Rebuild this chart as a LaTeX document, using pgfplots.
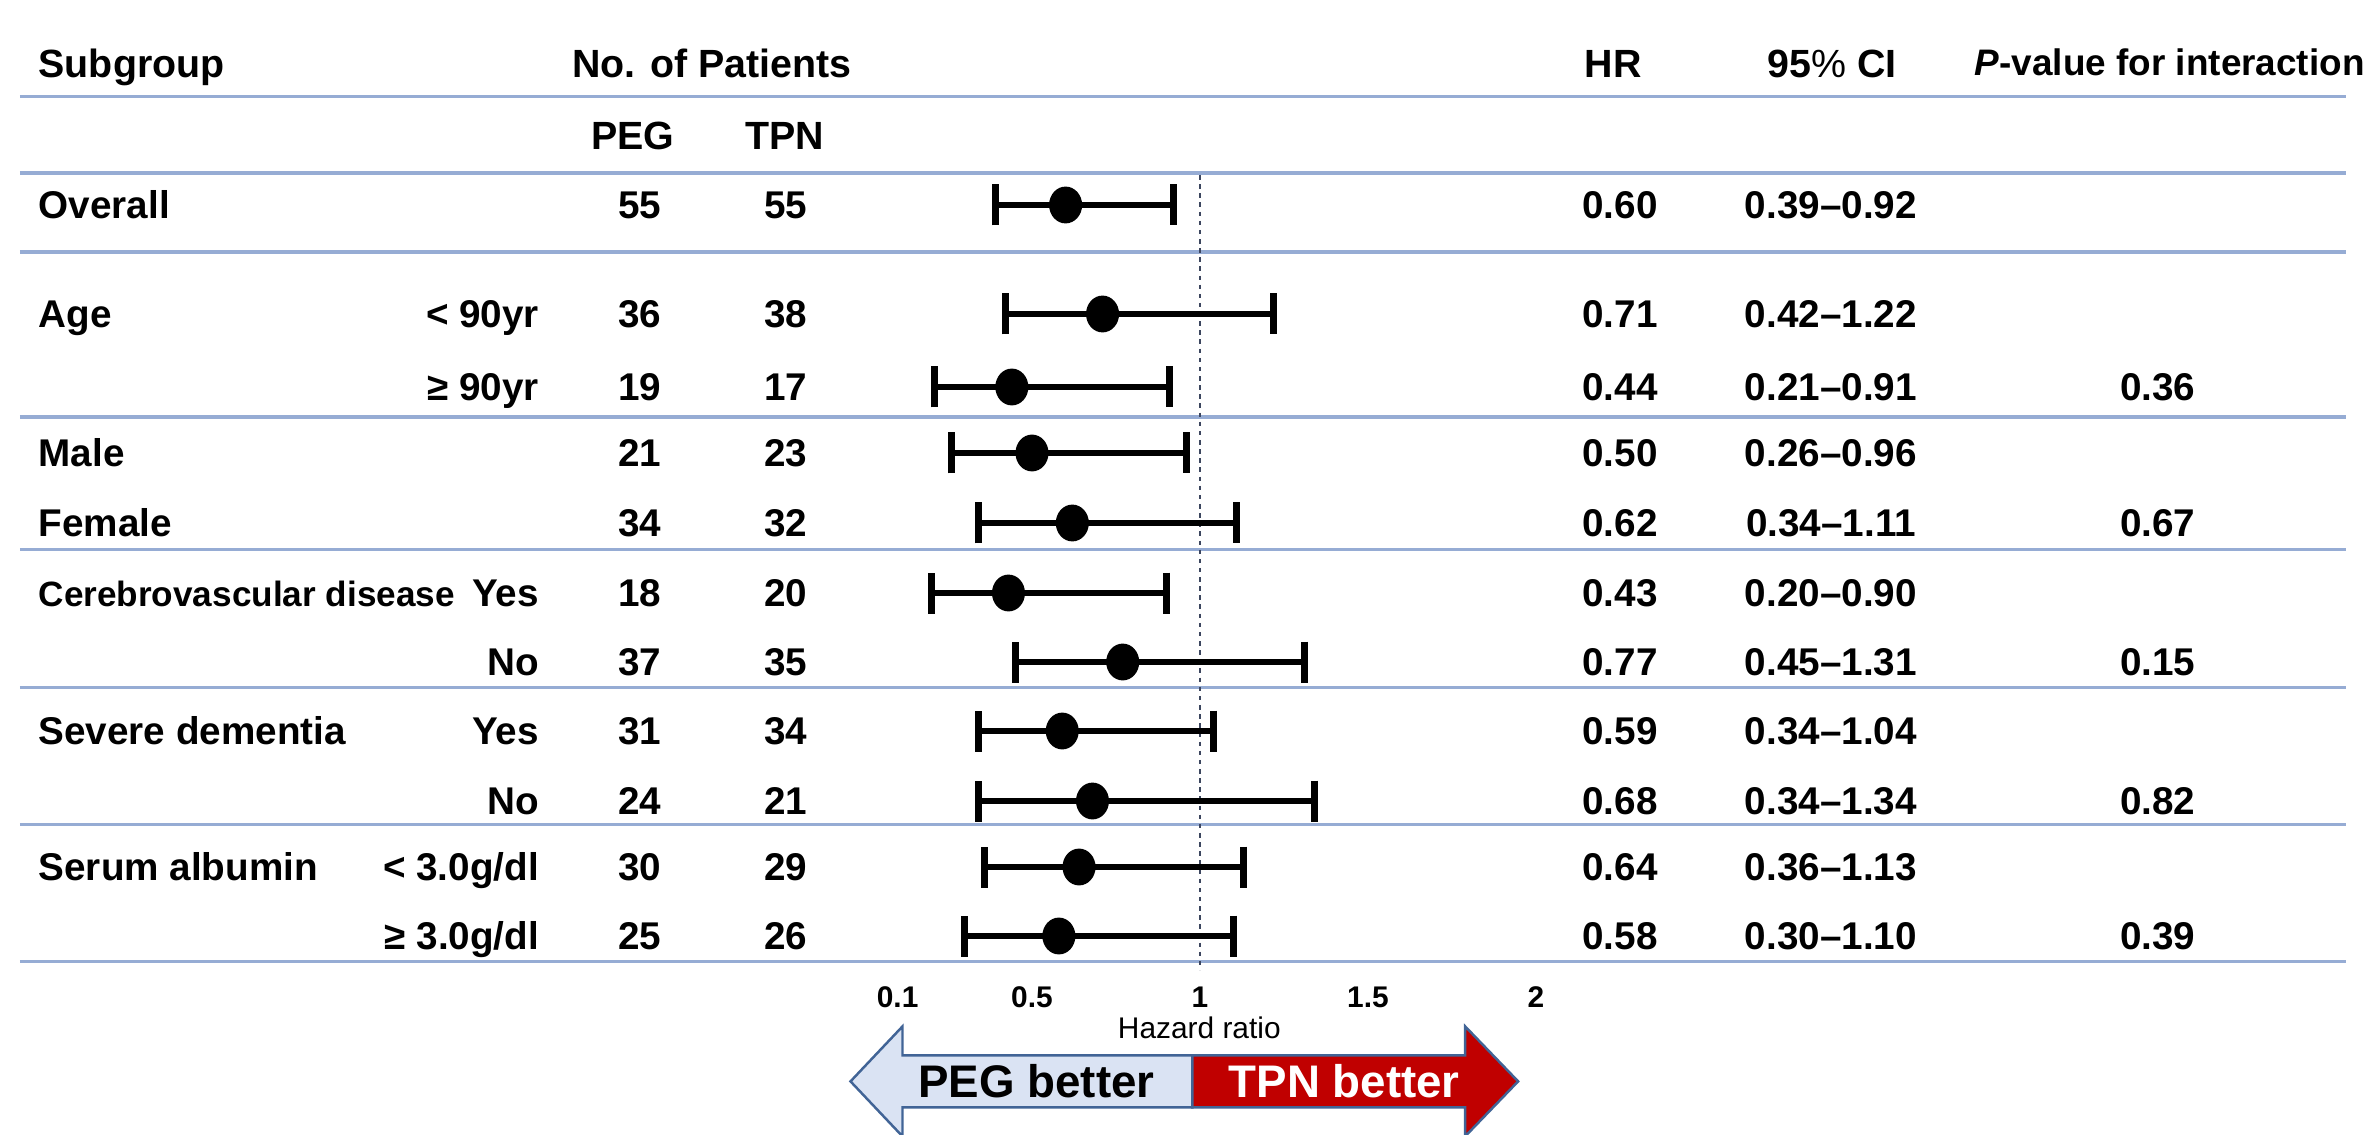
\documentclass[border=0pt]{standalone}
\usepackage{pgfplots}
\pgfplotsset{compat=1.18}
\usepackage{pgfplotstable}
\usepackage{fontspec}
\setmainfont{Liberation Sans}
\definecolor{rulec}{RGB}{150,172,212}
\definecolor{dotc}{RGB}{60,70,95}
\definecolor{pegfill}{RGB}{218,227,243}
\definecolor{tpnfill}{RGB}{192,0,0}
\definecolor{arrowline}{RGB}{65,100,150}

% y = minus the row position (pixels from the top)
\pgfplotstableread{
y     hr    lo    hi
-205  0.60  0.39  0.92
-314  0.71  0.42  1.22
-387  0.44  0.21  0.91
-453  0.50  0.26  0.96
-523  0.62  0.34  1.11
-593  0.43  0.20  0.90
-662  0.77  0.45  1.31
-731  0.59  0.34  1.04
-801  0.68  0.34  1.34
-867  0.64  0.36  1.13
-936  0.58  0.30  1.10
}\forestdata

\tikzset{
  tb/.style={inner sep=0pt, font=\bfseries\fontsize{11}{13}\selectfont},
  th/.style={inner sep=0pt, font=\bfseries\fontsize{11.2}{13}\selectfont},
}
\newcommand{\row}[8]{%
  \node[tb, anchor=base west] at (38,{#1+14}) {#2};
  \node[tb, anchor=base east] at (540,{#1+14}) {#3};
  \node[tb, anchor=base] at (640,{#1+14}) {#4};
  \node[tb, anchor=base] at (786,{#1+14}) {#5};
  \node[tb, anchor=base] at (1621,{#1+14}) {#6};
  \node[tb, anchor=base] at (1832,{#1+14}) {#7};
  \node[tb, anchor=base] at (2159,{#1+14}) {#8};
}

\begin{document}
\begin{tikzpicture}
\path[use as bounding box] (0,0) rectangle (23.65cm,11.34cm);

\begin{scope}[shift={(0,11.34cm)}, x=0.01cm, y=-0.01cm]
  % table rules
  \foreach \yy in {96.5,173,252,417,550,688,825,962}
    \draw[rulec, line width=1pt] (20,\yy) -- (2347,\yy);
  % arrows
  \draw[arrowline, line width=0.7pt, fill=pegfill]
    (851,1082) -- (903,1027) -- (903,1056) -- (1193,1056) -- (1193,1108)
    -- (903,1108) -- (903,1137) -- cycle;
  \draw[arrowline, line width=0.7pt, fill=tpnfill]
    (1193,1056) -- (1466,1056) -- (1466,1027) -- (1519,1082) -- (1466,1137)
    -- (1466,1108) -- (1193,1108) -- cycle;
\end{scope}

\begin{axis}[
  at={(0,0)}, anchor=south west,
  scale only axis, width=23.65cm, height=11.34cm,
  xmin=-2.5714, xmax=4.4673, ymin=-1134, ymax=0,
  axis line style={draw=none},
  ytick=\empty,
  xtick={0.1,0.5,1,1.5,2},
  xticklabels={0.1,0.5,1,1.5,2},
  major tick length=0pt,
  xticklabel style={font=\bfseries\fontsize{8.5}{10}\selectfont, anchor=center, yshift=1.37cm},
  clip=false,
]
\addplot[dotc, line width=0.8pt, dash pattern=on 1.3pt off 1.3pt] coordinates {(1,-175) (1,-970)};
\addplot[black, only marks, mark=*, mark size=4.5pt, mark options={yscale=1.12},
  error bars/.cd, x dir=both, x explicit,
  error bar style={line width=1.9pt, black},
  error mark options={line width=2pt, mark size=0.205cm, black, rotate=90}]
  table[x=hr, y=y, x error plus expr=\thisrow{hi}-\thisrow{hr},
        x error minus expr=\thisrow{hr}-\thisrow{lo}] {\forestdata};
\end{axis}

\begin{scope}[shift={(0,11.34cm)}, x=0.01cm, y=-0.01cm]
  % header
  \node[th, anchor=base west] at (38,78) {Subgroup};
  \node[th, anchor=base west] at (572,78) {No. of Patients};
  \node[th, anchor=base] at (1614,78) {HR};
  \node[th, anchor=base] at (1833,78) {95{\mdseries\%} CI};
  \node[inner sep=0pt, anchor=base, font=\bfseries\fontsize{10.5}{12}\selectfont] at (2171,76) {{\itshape P}-value for interaction};
  \node[th, anchor=base] at (633,150) {PEG};
  \node[th, anchor=base] at (785,150) {TPN};
  % rows
  \row{205}{Overall}{}{55}{55}{0.60}{0.39--0.92}{}
  \row{314}{Age}{< 90yr}{36}{38}{0.71}{0.42--1.22}{}
  \row{387}{}{≥ 90yr}{19}{17}{0.44}{0.21--0.91}{0.36}
  \row{453}{Male}{}{21}{23}{0.50}{0.26--0.96}{}
  \row{523}{Female}{}{34}{32}{0.62}{0.34--1.11}{0.67}
  \row{593}{\fontsize{10}{12}\selectfont Cerebrovascular disease}{Yes}{18}{20}{0.43}{0.20--0.90}{}
  \row{662}{}{No}{37}{35}{0.77}{0.45--1.31}{0.15}
  \row{731}{Severe dementia}{Yes}{31}{34}{0.59}{0.34--1.04}{}
  \row{801}{}{No}{24}{21}{0.68}{0.34--1.34}{0.82}
  \row{867}{Serum albumin}{< 3.0g/dl}{30}{29}{0.64}{0.36--1.13}{}
  \row{936}{}{≥ 3.0g/dl}{25}{26}{0.58}{0.30--1.10}{0.39}
  % axis title and arrow texts
  \node[inner sep=0pt, font=\fontsize{8.5}{10}\selectfont] at (1200,1028) {Hazard ratio};
  \node[inner sep=0pt, font=\bfseries\fontsize{13}{15}\selectfont] at (1037,1082) {PEG better};
  \node[inner sep=0pt, font=\bfseries\fontsize{13}{15}\selectfont, text=white] at (1345,1082) {TPN better};
\end{scope}
\end{tikzpicture}
\end{document}
